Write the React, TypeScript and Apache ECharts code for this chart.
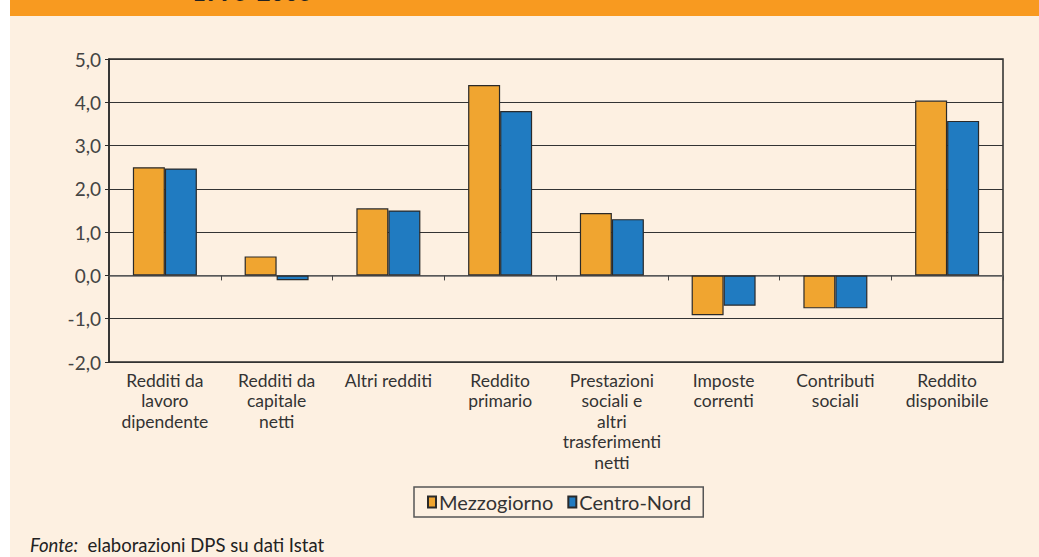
import React, { useEffect, useRef } from "react";
import * as echarts from "echarts";

const categories = [
  "Redditi da\nlavoro\ndipendente",
  "Redditi da\ncapitale\nnetti",
  "Altri redditi",
  "Reddito\nprimario",
  "Prestazioni\nsociali e\naltri\ntrasferimenti\nnetti",
  "Imposte\ncorrenti",
  "Contributi\nsociali",
  "Reddito\ndisponibile",
];
const seriesNames = ["Mezzogiorno", "Centro-Nord"];
const mezzogiorno = [2.5, 0.44, 1.55, 4.4, 1.44, -0.92, -0.76, 4.04];
const centroNord = [2.47, -0.11, 1.5, 3.8, 1.3, -0.7, -0.76, 3.57];
const yMin = -2;
const yMax = 5;
const yStep = 1;
const titleText = "1995-2005";
const sourceLabel = "Fonte:";
const sourceText = "elaborazioni DPS su dati Istat";

const FONT = "Lato, 'Open Sans', sans-serif";

export default function App() {
  const ref = useRef<HTMLDivElement>(null);
  useEffect(() => {
    if (!ref.current) return;
    const chart = echarts.init(ref.current, undefined, { renderer: "svg" });
    chart.setOption({
      animation: false,
      backgroundColor: "#ffffff",
      textStyle: { fontFamily: FONT },
      graphic: [
        { type: "rect", z: -10, silent: true, shape: { x: 10, y: 0, width: 1029, height: 557 }, style: { fill: "#FDF0E1" } },
        { type: "rect", z: -9, silent: true, shape: { x: 10, y: 0, width: 1029, height: 16 }, style: { fill: "#F89A20" } },
        { type: "text", z: -8, silent: true, x: 192, y: 3, style: { text: titleText, font: `bold 24px ${FONT}`, fill: "#222", verticalAlign: "bottom" } },
        {
          type: "text",
          x: 30,
          y: 554,
          style: {
            text: `{i|${sourceLabel}}  ${sourceText}`,
            font: `18.5px ${FONT}`,
            fill: "#222",
            verticalAlign: "bottom",
            rich: { i: { fontStyle: "italic", fontSize: 18.5, fontFamily: FONT, fill: "#222" } },
          },
        },
      ],
      grid: {
        left: 109,
        top: 59,
        right: 36,
        bottom: 195,
        show: true,
        borderColor: "#2a2a2a",
        borderWidth: 1.5,
        backgroundColor: "transparent",
      },
      legend: {
        data: seriesNames,
        left: 414,
        top: 487,
        padding: [5, 12, 5, 13],
        itemGap: 14,
        itemWidth: 8,
        itemHeight: 11,
        icon: "rect",
        borderColor: "#555",
        borderWidth: 1.5,
        textStyle: { fontSize: 20, color: "#333", fontFamily: FONT, padding: [0, 0, 0, -2] },
      },
      xAxis: [
        {
          type: "category",
          data: categories,
          position: "bottom",
          axisLine: { show: true, onZero: true, lineStyle: { color: "#666", width: 1.5 } },
          axisTick: { show: true, length: 5, lineStyle: { color: "#444" } },
          axisLabel: { show: false },
          splitLine: { show: false },
        },
        {
          type: "category",
          data: categories,
          position: "bottom",
          axisLine: { show: false, onZero: false },
          axisTick: { show: false },
          axisLabel: { show: true, interval: 0, margin: 8, fontSize: 17.5, lineHeight: 20.5, color: "#333", fontFamily: FONT },
          splitLine: { show: false },
        },
      ],
      yAxis: {
        type: "value",
        min: yMin,
        max: yMax,
        interval: yStep,
        axisLine: { show: true, lineStyle: { color: "#2a2a2a", width: 1.5 } },
        axisTick: { show: true, length: 4, lineStyle: { color: "#2a2a2a" } },
        axisLabel: {
          fontSize: 19,
          color: "#444",
          margin: 8,
          fontFamily: FONT,
          formatter: (v: number) => v.toFixed(1).replace(".", ","),
        },
        splitLine: { show: true, lineStyle: { color: "#333", width: 1 } },
      },
      series: [
        {
          name: seriesNames[0],
          type: "bar",
          xAxisIndex: 0,
          data: mezzogiorno,
          barWidth: 32,
          barGap: "0%",
          itemStyle: { color: "#F0A530", borderColor: "#2a2a2a", borderWidth: 1.2 },
        },
        {
          name: seriesNames[1],
          type: "bar",
          xAxisIndex: 0,
          data: centroNord,
          barWidth: 32,
          barGap: "0%",
          itemStyle: { color: "#207BC1", borderColor: "#2a2a2a", borderWidth: 1.2 },
        },
      ],
    });
    return () => chart.dispose();
  }, []);
  return <div ref={ref} style={{ position: "absolute", left: 0, top: 0, width: 1039, height: 557 }} />;
}
